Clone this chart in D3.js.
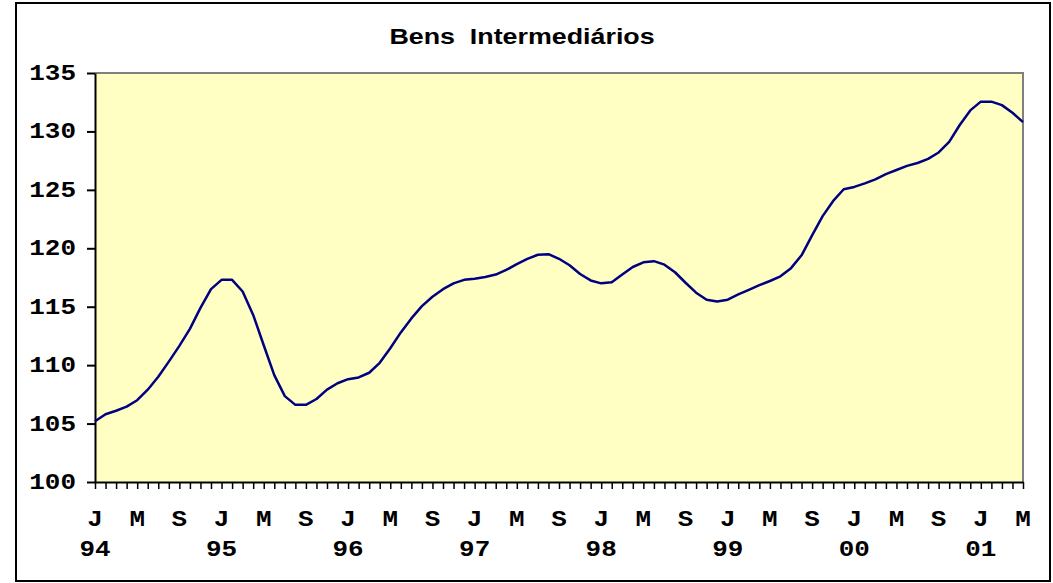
<!DOCTYPE html>
<html>
<head>
<meta charset="utf-8">
<title>Bens Intermediários</title>
<style>
    body { margin: 0; background: #fff; }
    .lbl { font: bold 22px "Liberation Mono", monospace; fill: #000; }
    .title { font: bold 22px "Liberation Sans", Arial, sans-serif; fill: #000; white-space: pre; }
</style>
</head>
<body>
<svg width="1053" height="583"></svg>
<script src="https://d3js.org/d3.v7.min.js"></script>
<script>
// monthly index, Jan 1994 .. May 2001
var values = [
    105.2, 105.8, 106.1, 106.45, 107.0, 107.9, 109.0, 110.3, 111.65, 113.1, 114.9, 116.5,
    117.3, 117.3, 116.3, 114.3, 111.7, 109.15, 107.35, 106.6, 106.6, 107.1, 107.9, 108.45,
    108.8, 108.95, 109.35, 110.2, 111.45, 112.8, 114.0, 115.05, 115.85, 116.5, 117.0, 117.3,
    117.4, 117.55, 117.75, 118.15, 118.65, 119.1, 119.45, 119.5, 119.1, 118.55, 117.8, 117.25,
    117.0, 117.1, 117.75, 118.4, 118.8, 118.9, 118.6, 117.95, 117.05, 116.2, 115.6, 115.45,
    115.6, 116.05, 116.45, 116.85, 117.2, 117.6, 118.3, 119.4, 121.1, 122.75, 124.05, 125.05,
    125.25, 125.55, 125.9, 126.35, 126.7, 127.05, 127.3, 127.65, 128.2, 129.1, 130.55, 131.8,
    132.55, 132.55, 132.25, 131.6, 130.8
];
var monthLabels = ["J", "M", "S"];          // every 4th month
var yearLabels = ["94", "95", "96", "97", "98", "99", "00", "01"];
var yTicks = [100, 105, 110, 115, 120, 125, 130, 135];

var svg = d3.select("svg"),
    stretch = 1.18,
    pLeft = 95, pRight = 1023, pTop = 73, pBottom = 482;

var x = d3.scaleLinear().domain([0, values.length - 1]).range([pLeft, pRight]);
var y = d3.scaleLinear().domain([100, 135]).range([pBottom, pTop]);

// outer frame
svg.append("rect")
    .attr("x", 16).attr("y", 3).attr("width", 1034).attr("height", 578)
    .attr("fill", "#fff").attr("stroke", "#000").attr("stroke-width", 2);

// plot area
svg.append("rect")
    .attr("x", pLeft).attr("y", pTop).attr("width", pRight - pLeft).attr("height", pBottom - pTop)
    .attr("fill", "#ffffc4");
svg.append("path")
    .attr("d", "M" + pLeft + "," + pTop + "H" + pRight + "V" + pBottom)
    .attr("fill", "none").attr("stroke", "#808080").attr("stroke-width", 2);

function stretchedText(cls, tx, ty, anchor, s, k) {
    svg.append("text")
        .attr("class", cls)
        .attr("transform", "translate(" + tx + "," + ty + ") scale(" + (k || stretch) + ",1)")
        .attr("text-anchor", anchor)
        .text(s);
}

// title
stretchedText("title", 522, 44, "middle", "Bens  Intermediários", 1.22);

// y axis
var yAxis = svg.append("g")
    .attr("transform", "translate(" + pLeft + ",0)")
    .call(d3.axisLeft(y).tickValues(yTicks).tickSize(8).tickSizeOuter(0).tickFormat(""));
yAxis.select(".domain").attr("stroke", "#000").attr("stroke-width", 2);
yAxis.selectAll(".tick line").attr("stroke", "#000").attr("stroke-width", 2);
yTicks.forEach(function(v) {
    stretchedText("lbl", 76, y(v) + 7, "end", String(v));
});

// x axis, one tick per month
var xAxis = svg.append("g")
    .attr("transform", "translate(0," + pBottom + ")")
    .call(d3.axisBottom(x).tickValues(d3.range(values.length)).tickSize(7).tickSizeOuter(0).tickFormat(""));
xAxis.select(".domain").attr("stroke", "#000").attr("stroke-width", 2);
xAxis.selectAll(".tick line").attr("stroke", "#000").attr("stroke-width", 1.5);

d3.range(0, values.length, 4).forEach(function(i, k) {
    stretchedText("lbl", x(i), 526, "middle", monthLabels[k % 3]);
});
yearLabels.forEach(function(s, k) {
    stretchedText("lbl", x(k * 12), 556, "middle", s);
});

// series
var line = d3.line()
    .x(function(d, i) { return x(i); })
    .y(function(d) { return y(d); });

svg.append("path")
    .datum(values)
    .attr("d", line)
    .attr("fill", "none")
    .attr("stroke", "#000080")
    .attr("stroke-width", 2.5)
    .attr("stroke-linejoin", "round");
</script>
</body>
</html>
